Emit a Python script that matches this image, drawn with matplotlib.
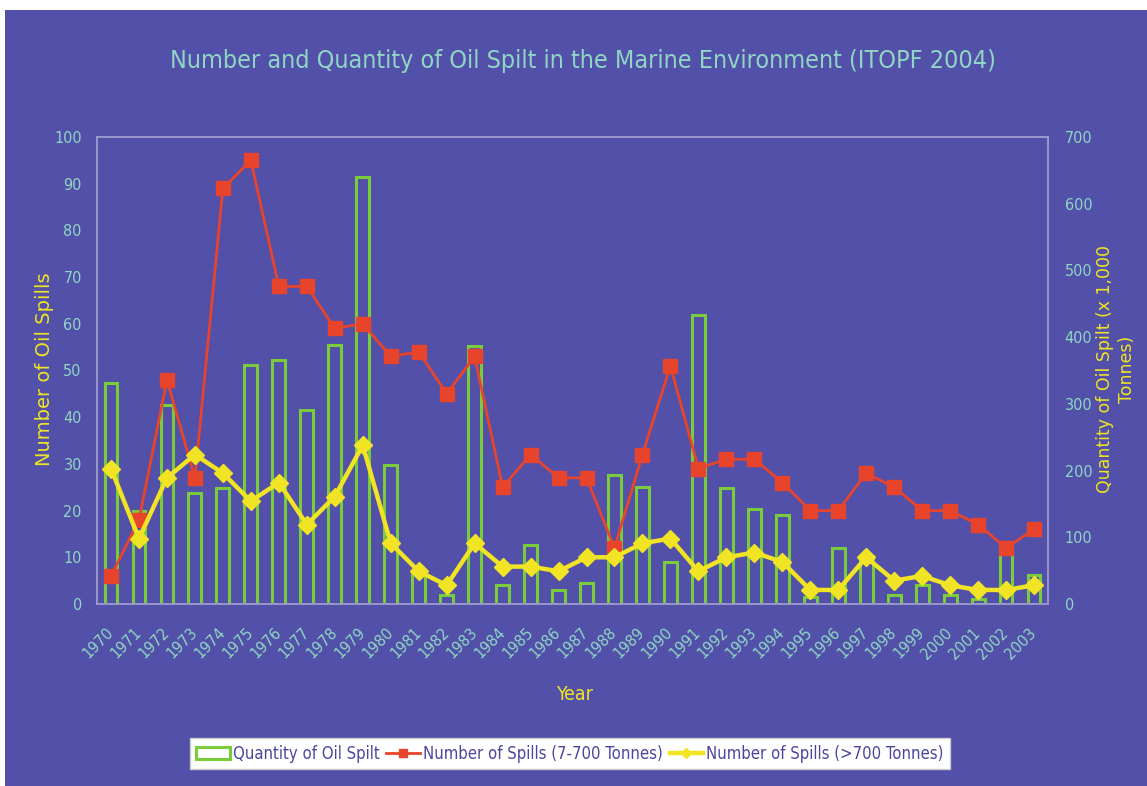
import matplotlib
matplotlib.use("Agg")
import matplotlib.pyplot as plt
from matplotlib.patches import Rectangle
from matplotlib import font_manager as fm

years = list(range(1970, 2004))
year_labels = [str(y) for y in years]

# Quantity of oil spilt (x 1,000 tonnes) - right axis
quantity = [331, 140, 298, 166, 174, 358, 366, 291, 388, 640,
            208, 46, 13, 386, 28, 88, 21, 31, 193, 176,
            63, 433, 174, 142, 134, 10, 84, 72, 13, 29,
            14, 8, 77, 43]
# Number of spills 7-700 tonnes - left axis
spills_small = [6, 18, 48, 27, 89, 95, 68, 68, 59, 60,
                53, 54, 45, 53, 25, 32, 27, 27, 12, 32,
                51, 29, 31, 31, 26, 20, 20, 28, 25, 20,
                20, 17, 12, 16]
# Number of spills >700 tonnes - left axis
spills_large = [29, 14, 27, 32, 28, 22, 26, 17, 23, 34,
                13, 7, 4, 13, 8, 8, 7, 10, 10, 13,
                14, 7, 10, 11, 9, 3, 3, 10, 5, 6,
                4, 3, 3, 4]

BG = "#5250a8"
TEAL = "#8fd6c4"
YEL = "#f0e424"
RED = "#e8442c"
GREEN = "#7acc3c"

# pick a condensed font if one is installed
narrow_path = None
for f in fm.fontManager.ttflist:
    if f.name in ("Liberation Sans Narrow", "Arial Narrow") and f.weight in (400, "normal", "regular") and f.style == "normal":
        narrow_path = f.fname
        break
if narrow_path is None:
    for f in fm.fontManager.ttflist:
        if f.name == "DejaVu Sans" and "condensed" in str(f.stretch) and f.weight in (400, "normal", "regular") and f.style == "normal":
            narrow_path = f.fname
            break

def NP(size):
    if narrow_path:
        return fm.FontProperties(fname=narrow_path, size=size)
    return fm.FontProperties(family=["Liberation Sans", "DejaVu Sans"], size=size * 0.92)

fig = plt.figure(figsize=(11.47, 7.86), dpi=100, facecolor=BG)
fig.patches.append(Rectangle((0, 0.987), 1, 0.013, transform=fig.transFigure,
                             facecolor="white", edgecolor="none", zorder=0))
fig.patches.append(Rectangle((0, 0), 0.004, 1, transform=fig.transFigure,
                             facecolor="white", edgecolor="none", zorder=0))

ax = fig.add_axes([0.0846, 0.2316, 0.8291, 0.5941])
ax2 = ax.twinx()
ax.set_zorder(ax2.get_zorder() + 1)
ax.patch.set_visible(False)
ax2.set_facecolor(BG)

x = list(range(len(years)))
bars = ax2.bar(x, quantity, width=0.46, facecolor="none", edgecolor=GREEN,
               linewidth=2.2, label="Quantity of Oil Spilt")
l1, = ax.plot(x, spills_small, color=RED, linewidth=2.0, marker="s",
              markersize=10, markeredgecolor=RED, label="Number of Spills (7-700 Tonnes)",
              zorder=3)
l2, = ax.plot(x, spills_large, color=YEL, linewidth=3.2, marker="D",
              markersize=9, markeredgecolor=YEL, label="Number of Spills (>700 Tonnes)",
              zorder=4)

ax.set_xlim(-0.5, len(years) - 0.5)
ax.set_ylim(0, 100)
ax2.set_ylim(0, 700)
ax.set_yticks(range(0, 101, 10))
ax2.set_yticks(range(0, 701, 100))
ax.set_xticks(x)
ax.set_xticklabels(year_labels, rotation=45, ha="right", va="center",
                   rotation_mode="anchor", color=TEAL)
for t in ax.get_xticklabels():
    t.set_fontproperties(NP(11.5))
for a in (ax, ax2):
    a.tick_params(length=0)
    for s in a.spines.values():
        s.set_color("#9a98cc")
        s.set_linewidth(1.2)
ax.tick_params(axis="x", pad=19)
ax.tick_params(axis="y", pad=11)
ax2.tick_params(axis="y", pad=12)
for t in ax.get_yticklabels():
    t.set_color(TEAL); t.set_fontproperties(NP(11.5))
for t in ax2.get_yticklabels():
    t.set_color(TEAL); t.set_fontproperties(NP(11.5))

fig.text(0.508, 0.922, "Number and Quantity of Oil Spilt in the Marine Environment (ITOPF 2004)",
         ha="center", va="center", color=TEAL, fontproperties=NP(18))
fig.text(0.039, 0.53, "Number of Oil Spills", rotation=90, ha="center", va="center",
         color=YEL, fontsize=14, family=["DejaVu Sans"])
fig.text(0.973, 0.53, "Quantity of Oil Spilt (x 1,000\nTonnes)", rotation=90,
         ha="center", va="center", color=YEL, fontsize=12.5, family=["DejaVu Sans"],
         multialignment="center", linespacing=1.25)
fig.text(0.501, 0.116, "Year", ha="center", va="center", color=YEL,
         fontproperties=NP(14))

leg = fig.legend(handles=[bars, l1, l2], loc="center", bbox_to_anchor=(0.497, 0.041),
                 ncol=3, frameon=True, fancybox=False, framealpha=1.0,
                 prop=NP(12),
                 handlelength=2.0, handletextpad=0.2, columnspacing=0.4,
                 borderpad=0.4, markerscale=0.6)
leg.get_frame().set_facecolor("white")
leg.get_frame().set_edgecolor("#cccccc")
for t in leg.get_texts():
    t.set_color("#4a46a0")

fig.savefig("out.png", dpi=100, facecolor=BG)
